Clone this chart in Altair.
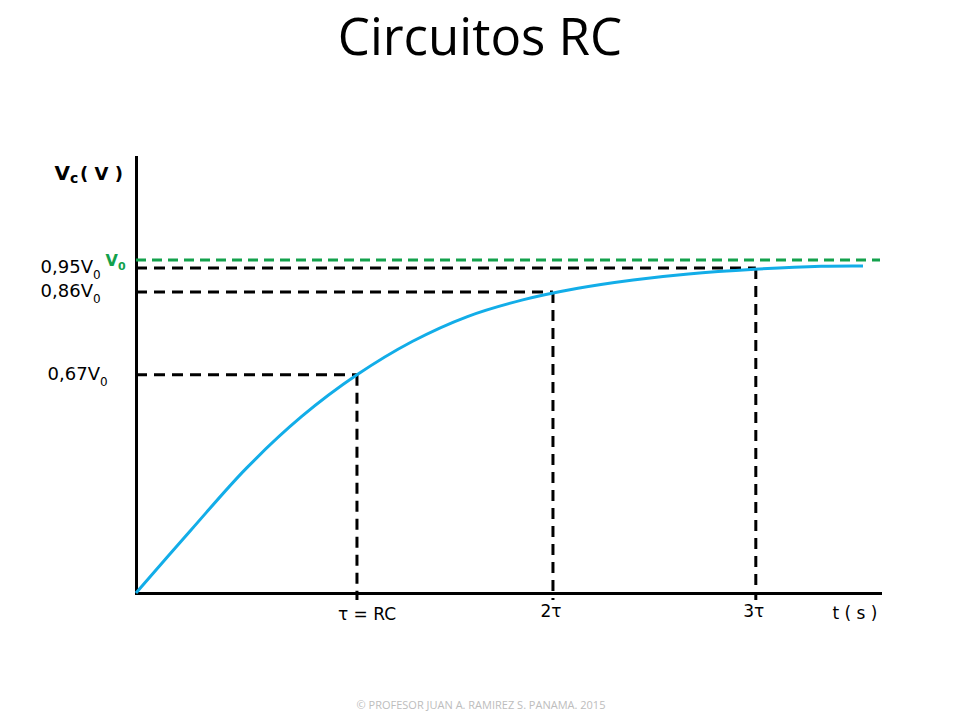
import altair as alt
import pandas as pd

# ---- data (t in units of tau, v in units of V0) ----
t_vals = [0.0, 0.25, 0.5, 0.75, 1.0, 1.25, 1.5, 1.75, 2.0, 2.25, 2.5, 2.8, 3.1, 3.29]
v_vals = [0.0, 0.19, 0.375, 0.53, 0.655, 0.755, 0.83, 0.88, 0.915, 0.94, 0.958, 0.972, 0.981, 0.982]

mark_t = [1.0, 1.887, 2.805]          # tau, 2tau, 3tau
mark_v = [0.655, 0.904, 0.976]        # 0.67 V0, 0.86 V0, 0.95 V0
y_labels = ["0,67V", "0,86V", "0,95V"]
x_labels = ["τ = RC", "2τ", "3τ"]
v0 = 1.0
t_max = 3.367
v_max = 1.309

title_text = "Circuitos RC"
credit_text = "© PROFESOR JUAN A. RAMIREZ S.  PANAMA.  2015"

W, H = 744, 436
BLUE = "#12ade8"
GREEN = "#13a14c"

curve = pd.DataFrame({"t": t_vals, "v": v_vals})
marks = pd.DataFrame({"t": mark_t, "v": mark_v, "ylab": y_labels, "xlab": x_labels, "i": [0, 1, 2],
                      "t0": [0.0] * 3, "v0": [0.0] * 3})
v0_df = pd.DataFrame({"v": [v0], "lab": ["V"], "sub": ["0"], "t0": [0.0], "t1": [t_max]})

xs = alt.Scale(domain=[0, t_max], nice=False, zero=False)
ys = alt.Scale(domain=[0, v_max], nice=False, zero=False)
AX = alt.Axis(domain=True, domainColor="black", domainWidth=3, domainCap="square", ticks=False,
              labels=False, grid=False, title=None)


def X(f):
    return alt.X(f, scale=xs, axis=AX)


def Y(f):
    return alt.Y(f, scale=ys, axis=AX)


line = alt.Chart(curve).mark_line(color=BLUE, strokeWidth=3, interpolate="catmull-rom").encode(
    x=X("t:Q"), y=Y("v:Q")
)
hrules = alt.Chart(marks).mark_rule(color="black", strokeWidth=3, strokeDash=[11, 7]).encode(
    x=X("t0:Q"), x2="t:Q", y=Y("v:Q")
)
vrules = alt.Chart(marks).mark_rule(color="black", strokeWidth=3, strokeDash=[11, 7], y2Offset=7).encode(
    x=X("t:Q"), y=Y("v:Q"), y2="v0:Q"
)
green = alt.Chart(v0_df).mark_rule(color=GREEN, strokeWidth=3, strokeDash=[10, 6]).encode(
    x=X("t0:Q"), x2="t1:Q", y=Y("v:Q")
)

lab_font = "DejaVu Sans"


def ytext(df, flt, align, size, xpix, field=None, const=None, dy=0, weight="normal", color="black"):
    enc = dict(x=alt.value(xpix), y=Y("v:Q"))
    enc["text"] = alt.Text(f"{field}:N") if field else alt.value(const)
    ch = alt.Chart(df)
    if flt:
        ch = ch.transform_filter(flt)
    return ch.mark_text(align=align, baseline="middle", font=lab_font, fontSize=size,
                        fontWeight=weight, color=color, dy=dy).encode(**enc)


ylab_top = ytext(marks, "datum.i > 0", "right", 18, -43, field="ylab")
ysub_top = ytext(marks, "datum.i > 0", "left", 12, -43, const="0", dy=7)
ylab_low = ytext(marks, "datum.i == 0", "right", 18, -36, field="ylab")
ysub_low = ytext(marks, "datum.i == 0", "left", 12, -36, const="0", dy=7)
v0_lab = ytext(v0_df, None, "right", 16, -18, field="lab", dy=1, weight="bold", color=GREEN)
v0_sub = ytext(v0_df, None, "left", 11, -18, field="sub", dy=7, weight="bold", color=GREEN)

xlab_tau = alt.Chart(marks).transform_filter("datum.i == 0").mark_text(
    align="center", baseline="alphabetic", font=lab_font, fontSize=17, color="black", dx=10, dy=27
).encode(x=X("t:Q"), y=alt.value(H), text="xlab:N")
xlab_n = alt.Chart(marks).transform_filter("datum.i > 0").mark_text(
    align="center", baseline="alphabetic", font=lab_font, fontSize=17, color="black", dx=-2, dy=24
).encode(x=X("t:Q"), y=alt.value(H), text="xlab:N")

texts = pd.DataFrame({
    "txt": [title_text, "V", "c", "( V )", "t ( s )", credit_text],
    "k": [0, 1, 2, 3, 4, 5],
})


def ftext(k, align, font, size, xpix, ypix, weight="normal", color="black"):
    return alt.Chart(texts).transform_filter(f"datum.k == {k}").mark_text(
        align=align, baseline="alphabetic", font=font, fontSize=size, fontWeight=weight, color=color
    ).encode(x=alt.value(xpix), y=alt.value(ypix), text="txt:N")


title = ftext(0, "center", "Open Sans", 51, 344, -102)
vc_v = ftext(1, "right", lab_font, 20, -66, 23, weight="bold")
vc_c = ftext(2, "left", lab_font, 14, -66, 26, weight="bold")
vc_u = ftext(3, "left", lab_font, 18, -56, 23, weight="bold")
ts = ftext(4, "center", lab_font, 17, 719, 462)
credit = ftext(5, "center", "Open Sans", 11, 345, 552, color="#bdbdbd")

chart = alt.layer(
    green, hrules, vrules, line,
    ylab_top, ysub_top, ylab_low, ysub_low, v0_lab, v0_sub,
    xlab_tau, xlab_n, title, vc_v, vc_c, vc_u, ts, credit,
).properties(
    width=W, height=H,
    autosize=alt.AutoSizeParams(type="none"),
    padding={"left": 128, "top": 149, "right": 72, "bottom": 119},
    background="white",
).configure_view(stroke=None)

chart.save("out.html", embed_options={"renderer": "svg", "actions": False})
